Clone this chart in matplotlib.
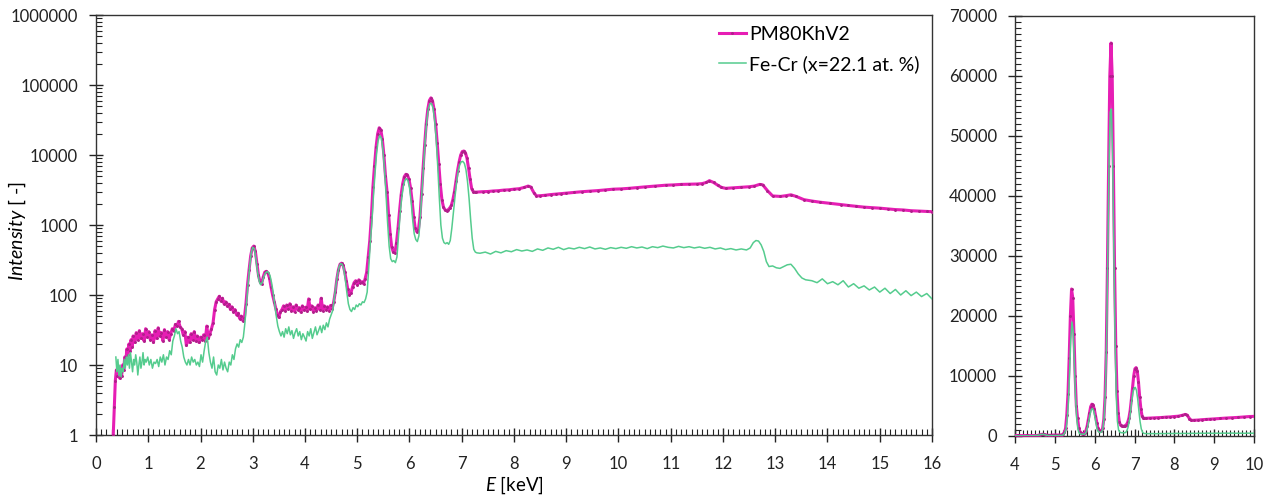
import numpy as np
import matplotlib
matplotlib.use("Agg")
import matplotlib.pyplot as plt
from matplotlib.ticker import MultipleLocator, LogLocator, NullFormatter

plt.rcParams['font.family'] = ['Lato', 'DejaVu Sans']
plt.rcParams['mathtext.fontset'] = 'custom'
plt.rcParams['mathtext.rm'] = 'Lato'
plt.rcParams['mathtext.it'] = 'Lato:italic'

# ---------------- data: PM80KhV2 ----------------
pm_E = [
    0.33, 0.35, 0.37, 0.39, 0.41, 0.43, 0.45, 0.47, 0.49, 0.51,
    0.53, 0.55, 0.57, 0.59, 0.61, 0.63, 0.65, 0.67, 0.69, 0.71,
    0.74, 0.77, 0.80, 0.83, 0.86, 0.89, 0.92, 0.95, 0.98, 1.01,
    1.04, 1.07, 1.10, 1.13, 1.16, 1.19, 1.22, 1.25, 1.28, 1.31,
    1.34, 1.37, 1.40, 1.43, 1.46, 1.49, 1.52, 1.55, 1.58, 1.61,
    1.64, 1.67, 1.70, 1.73, 1.76, 1.79, 1.82, 1.85, 1.88, 1.91,
    1.94, 1.97, 2.00, 2.03, 2.06, 2.09, 2.12, 2.15, 2.18, 2.21,
    2.24, 2.27, 2.30, 2.33, 2.36, 2.39, 2.42, 2.45, 2.48, 2.51,
    2.54, 2.57, 2.60, 2.63, 2.66, 2.69, 2.72, 2.75, 2.78, 2.81,
    2.84, 2.87, 2.90, 2.93, 2.96, 2.99, 3.02, 3.05, 3.08, 3.11,
    3.14, 3.17, 3.20, 3.23, 3.26, 3.29, 3.32, 3.35, 3.38, 3.41,
    3.44, 3.47, 3.50, 3.53, 3.56, 3.59, 3.62, 3.65, 3.68, 3.71,
    3.74, 3.77, 3.80, 3.83, 3.86, 3.89, 3.92, 3.95, 3.98, 4.01,
    4.04, 4.07, 4.10, 4.13, 4.16, 4.19, 4.22, 4.25, 4.28, 4.31,
    4.34, 4.37, 4.40, 4.43, 4.46, 4.49, 4.52, 4.55, 4.58, 4.61,
    4.64, 4.67, 4.70, 4.73, 4.76, 4.79, 4.82, 4.85, 4.88, 4.91,
    4.94, 4.97, 5.00, 5.03, 5.06, 5.09, 5.12, 5.15, 5.18, 5.21,
    5.24, 5.27, 5.30, 5.33, 5.36, 5.39, 5.42, 5.45, 5.48, 5.51,
    5.54, 5.57, 5.60, 5.63, 5.66, 5.69, 5.72, 5.75, 5.78, 5.81,
    5.84, 5.87, 5.90, 5.93, 5.96, 5.99, 6.02, 6.05, 6.08, 6.11,
    6.14, 6.17, 6.20, 6.23, 6.26, 6.29, 6.32, 6.35, 6.38, 6.41,
    6.44, 6.47, 6.50, 6.53, 6.56, 6.59, 6.62, 6.65, 6.68, 6.71,
    6.74, 6.77, 6.80, 6.83, 6.86, 6.89, 6.92, 6.95, 6.98, 7.01,
    7.04, 7.07, 7.10, 7.13, 7.16, 7.19, 7.22, 7.25, 7.28, 7.40,
    7.50, 7.60, 7.70, 7.80, 7.90, 8.00, 8.10, 8.20, 8.27, 8.32,
    8.38, 8.43, 8.50, 8.60, 8.70, 8.80, 8.90, 9.00, 9.15, 9.30,
    9.45, 9.60, 9.75, 9.90, 10.05, 10.20, 10.35, 10.50, 10.70, 10.90,
    11.05, 11.20, 11.35, 11.50, 11.60, 11.68, 11.74, 11.82, 11.90, 11.97,
    12.05, 12.20, 12.35, 12.50, 12.60, 12.70, 12.76, 12.85, 12.95, 13.10,
    13.20, 13.30, 13.40, 13.55, 13.70, 13.85, 14.05, 14.25, 14.40, 14.55,
    14.70, 14.85, 15.00, 15.15, 15.30, 15.45, 15.60, 15.75, 15.90, 16.00,
]
pm_I = [
    1, 2.5, 6, 8.5, 7, 9.5, 6.5, 8, 7, 10,
    8.5, 13, 11, 17, 14, 20, 16, 23, 18, 26,
    21, 29, 23, 31, 24, 28, 22, 33, 25, 30,
    23, 27, 21, 31, 24, 34, 26, 29, 22, 32,
    25, 30, 23, 28, 33, 31, 38, 36, 42, 35,
    33, 27, 30, 19, 25, 21, 28, 23, 30, 22,
    26, 21, 25, 23, 27, 22, 36, 24, 28, 33,
    40, 62, 80, 88, 96, 82, 90, 75, 80, 70,
    74, 63, 68, 58, 62, 52, 55, 46, 50, 43,
    47, 75, 140, 230, 360, 470, 500, 420, 280, 190,
    155, 145, 180, 212, 218, 205, 175, 130, 100, 80,
    64, 52, 48, 58, 62, 70, 60, 72, 63, 75,
    60, 68, 58, 72, 62, 66, 57, 70, 61, 67,
    59, 88, 63, 70, 58, 66, 60, 72, 62, 90,
    60, 70, 62, 68, 60, 71, 64, 80, 110, 170,
    230, 275, 285, 265, 215, 160, 120, 100, 108, 130,
    150, 160, 140, 165, 150, 155, 145, 170, 210, 350,
    600, 1300, 3500, 7000, 13000, 20000, 24500, 23000, 17000, 10000,
    5000, 3000, 1400, 750, 480, 410, 400, 550, 900, 1600,
    2700, 3900, 4900, 5300, 5200, 4500, 3400, 2200, 1300, 900,
    800, 850, 1300, 2800, 6500, 14000, 28000, 45000, 60000, 65500,
    60000, 45000, 28000, 15000, 7500, 3800, 2300, 1800, 1650, 1600,
    1650, 1750, 1900, 2300, 3000, 4200, 6000, 8000, 10000, 11200,
    11400, 10800, 9000, 6500, 4500, 3300, 3000, 2950, 2950, 2990,
    3010, 3060, 3090, 3150, 3180, 3250, 3300, 3450, 3600, 3500,
    2900, 2600, 2620, 2660, 2720, 2760, 2810, 2850, 2920, 2990,
    3040, 3100, 3170, 3250, 3280, 3340, 3420, 3500, 3600, 3700,
    3740, 3800, 3820, 3850, 3900, 4050, 4300, 4050, 3700, 3450,
    3340, 3400, 3450, 3520, 3600, 3800, 3750, 3100, 2600, 2560,
    2620, 2700, 2560, 2300, 2200, 2120, 2040, 1960, 1900, 1850,
    1800, 1770, 1740, 1700, 1660, 1640, 1600, 1580, 1560, 1550,
]

# ---------------- data: Fe-Cr (x=22.1 at. %) ----------------
fc_E = [
    0.38, 0.40, 0.42, 0.44, 0.46, 0.48, 0.50, 0.52, 0.54, 0.56,
    0.58, 0.60, 0.62, 0.64, 0.66, 0.68, 0.70, 0.72, 0.74, 0.76,
    0.78, 0.80, 0.82, 0.84, 0.86, 0.88, 0.90, 0.92, 0.94, 0.96,
    0.99, 1.02, 1.05, 1.08, 1.11, 1.14, 1.17, 1.20, 1.23, 1.26,
    1.29, 1.32, 1.35, 1.38, 1.41, 1.44, 1.47, 1.50, 1.53, 1.56,
    1.59, 1.62, 1.65, 1.68, 1.71, 1.74, 1.77, 1.80, 1.83, 1.86,
    1.89, 1.92, 1.95, 1.98, 2.01, 2.04, 2.07, 2.10, 2.13, 2.16,
    2.19, 2.22, 2.25, 2.28, 2.31, 2.34, 2.37, 2.40, 2.43, 2.46,
    2.49, 2.52, 2.55, 2.58, 2.61, 2.64, 2.67, 2.70, 2.73, 2.76,
    2.79, 2.82, 2.85, 2.88, 2.91, 2.94, 2.97, 3.00, 3.03, 3.06,
    3.09, 3.12, 3.15, 3.18, 3.21, 3.24, 3.27, 3.30, 3.33, 3.36,
    3.39, 3.42, 3.45, 3.48, 3.51, 3.54, 3.57, 3.60, 3.63, 3.66,
    3.69, 3.72, 3.75, 3.78, 3.81, 3.84, 3.87, 3.90, 3.93, 3.96,
    3.99, 4.02, 4.05, 4.08, 4.11, 4.14, 4.17, 4.20, 4.23, 4.26,
    4.29, 4.32, 4.35, 4.38, 4.41, 4.44, 4.47, 4.50, 4.53, 4.56,
    4.59, 4.62, 4.65, 4.68, 4.71, 4.74, 4.77, 4.80, 4.83, 4.86,
    4.89, 4.92, 4.95, 4.98, 5.01, 5.04, 5.07, 5.10, 5.13, 5.16,
    5.19, 5.22, 5.25, 5.28, 5.31, 5.34, 5.37, 5.40, 5.43, 5.46,
    5.49, 5.52, 5.55, 5.58, 5.61, 5.64, 5.67, 5.70, 5.73, 5.76,
    5.79, 5.82, 5.85, 5.88, 5.91, 5.94, 5.97, 6.00, 6.03, 6.06,
    6.09, 6.12, 6.15, 6.18, 6.21, 6.24, 6.27, 6.30, 6.33, 6.36,
    6.39, 6.42, 6.45, 6.48, 6.51, 6.54, 6.57, 6.60, 6.63, 6.66,
    6.69, 6.72, 6.75, 6.78, 6.81, 6.84, 6.87, 6.90, 6.93, 6.96,
    6.99, 7.02, 7.05, 7.08, 7.11, 7.14, 7.17, 7.20, 7.23, 7.26,
    7.29, 7.35, 7.45, 7.55, 7.65, 7.75, 7.85, 7.95, 8.05, 8.15,
    8.25, 8.35, 8.45, 8.55, 8.65, 8.75, 8.85, 8.95, 9.05, 9.15,
    9.25, 9.35, 9.45, 9.55, 9.65, 9.75, 9.85, 9.95, 10.05, 10.15,
    10.25, 10.35, 10.45, 10.55, 10.65, 10.75, 10.85, 10.95, 11.05, 11.15,
    11.25, 11.35, 11.45, 11.55, 11.65, 11.75, 11.85, 11.95, 12.05, 12.15,
    12.25, 12.35, 12.45, 12.52, 12.58, 12.63, 12.68, 12.73, 12.78, 12.83,
    12.88, 12.95, 13.02, 13.09, 13.16, 13.23, 13.30, 13.37, 13.44, 13.51,
    13.58, 13.70, 13.80, 13.90, 14.00, 14.10, 14.20, 14.30, 14.40, 14.50,
    14.60, 14.70, 14.80, 14.90, 15.00, 15.10, 15.20, 15.30, 15.40, 15.50,
    15.60, 15.70, 15.80, 15.90, 16.00,
]
fc_I = [
    13, 8, 12, 7, 10, 6.8, 9, 8, 12, 9,
    13, 10, 14, 9, 15, 11, 8, 12, 10, 14,
    11, 7.2, 10, 13, 9, 11, 15, 10, 12, 11,
    13, 10, 12, 9, 11, 10.5, 12, 9.5, 13, 11,
    14, 10, 13, 12, 16, 14, 22, 26, 33, 28,
    30, 22, 18, 13, 11, 10, 12, 10, 13, 11,
    12, 10, 11, 9.5, 14, 11, 16, 22, 25, 15,
    11, 9, 13, 8, 7.2, 10, 9, 12, 8.5, 11,
    9, 8, 11, 10, 14, 12, 17, 20, 18, 23,
    21, 25, 40, 75, 140, 250, 400, 480, 460, 330,
    220, 160, 140, 150, 180, 205, 215, 212, 190, 150,
    110, 75, 50, 36, 30, 26, 30, 25, 33, 28,
    35, 27, 31, 24, 29, 33, 26, 30, 23, 28,
    25, 22, 30, 26, 33, 24, 29, 35, 27, 31,
    36, 29, 37, 32, 40, 35, 45, 52, 60, 90,
    130, 190, 250, 280, 275, 240, 170, 110, 75, 62,
    58, 66, 62, 72, 68, 75, 72, 80, 78, 88,
    110, 250, 550, 1100, 2600, 5500, 10500, 16000, 19000, 17500,
    12000, 6500, 2800, 1100, 500, 330, 300, 310, 290, 350,
    700, 1400, 2400, 3500, 4300, 4600, 4300, 3400, 2200, 1200,
    750, 620, 580, 700, 1400, 3200, 7500, 16000, 30000, 45000,
    54000, 54500, 47000, 32000, 17000, 7000, 2500, 1000, 650, 560,
    540, 560, 530, 600, 900, 1500, 2500, 4000, 5800, 7200,
    8000, 8100, 7600, 6200, 4200, 2400, 1200, 650, 450, 410,
    400, 395, 410, 385, 420, 400, 430, 415, 445, 425,
    440, 420, 455, 435, 470, 450, 480, 445, 470, 455,
    480, 460, 485, 455, 470, 450, 475, 460, 480, 465,
    490, 470, 485, 460, 490, 475, 500, 480, 470, 495,
    475, 490, 470, 485, 465, 480, 455, 470, 445, 460,
    440, 455, 440, 470, 560, 600, 590, 520, 420, 300,
    255, 260, 245, 240, 255, 270, 275, 240, 200, 175,
    165, 160, 150, 170, 145, 155, 140, 160, 130, 145,
    125, 135, 118, 130, 110, 125, 105, 120, 100, 115,
    98, 110, 95, 105, 88,
]

legend_labels = ["PM80KhV2", "Fe-Cr (x=22.1 at. %)"]
left_yticks = [1, 10, 100, 1000, 10000, 100000, 1000000]
left_xticks = list(range(0, 17))
right_yticks = [0, 10000, 20000, 30000, 40000, 50000, 60000, 70000]
right_xticks = [4, 5, 6, 7, 8, 9, 10]

MAG = '#E61EB4'
MAG_MK = '#B0208A'
GRN = '#55CC8E'

fig = plt.figure(figsize=(12.72, 4.95), dpi=100)
axL = fig.add_axes([96/1272, 1-435/495, (932-96)/1272, (435-15)/495])
axR = fig.add_axes([1015/1272, 1-436/495, (1254-1015)/1272, (436-16)/495])

E1, I1 = np.array(pm_E), np.array(pm_I)
E2, I2 = np.array(fc_E), np.array(fc_I)

for ax in (axL, axR):
    ax.plot(E1, I1, color=MAG, lw=2.2, marker='.', ms=2.2, mfc=MAG_MK, mec=MAG_MK,
            zorder=3, label=legend_labels[0])
    ax.plot(E2, I2, color=GRN, lw=1.1, zorder=4, label=legend_labels[1])
    for s in ax.spines.values():
        s.set_color('#333333')
        s.set_linewidth(1.0)
    ax.tick_params(axis='both', which='major', direction='inout', length=10, width=1.0,
                   labelsize=12, colors='#222222')
    ax.tick_params(axis='y', which='major', pad=8)
    ax.tick_params(axis='x', which='major', pad=10)
    ax.tick_params(axis='both', which='minor', direction='in', length=4, width=0.8,
                   color='#222222')

# left axes
axL.set_yscale('log')
axL.set_xlim(0, 16)
axL.set_ylim(1, 1000000)
axL.set_yticks(left_yticks)
axL.set_yticklabels([str(v) for v in left_yticks])
axL.yaxis.set_minor_locator(LogLocator(base=10, subs=np.arange(2, 10)))
axL.yaxis.set_minor_formatter(NullFormatter())
axL.set_xticks(left_xticks)
axL.xaxis.set_minor_locator(MultipleLocator(0.1))
axL.set_xlabel(r'$\it{E}$ [keV]', fontsize=13.5, labelpad=2)
axL.set_ylabel(r'$\it{Intensity}$ [ -]', fontsize=14)
axL.yaxis.set_label_coords(-0.0813, 0.486)
leg = axL.legend(loc='upper right', bbox_to_anchor=(0.985, 0.975), frameon=False,
                 fontsize=14, borderpad=0, borderaxespad=0,
                 handlelength=1.4, handletextpad=0.15, labelspacing=0.65)

# right axes
axR.set_xlim(4, 10)
axR.set_ylim(0, 70000)
axR.set_yticks(right_yticks)
axR.set_yticklabels([str(v) for v in right_yticks])
axR.yaxis.set_minor_locator(MultipleLocator(1000))
axR.set_xticks(right_xticks)
axR.xaxis.set_minor_locator(MultipleLocator(0.1))

fig.savefig('out.png', dpi=100)
